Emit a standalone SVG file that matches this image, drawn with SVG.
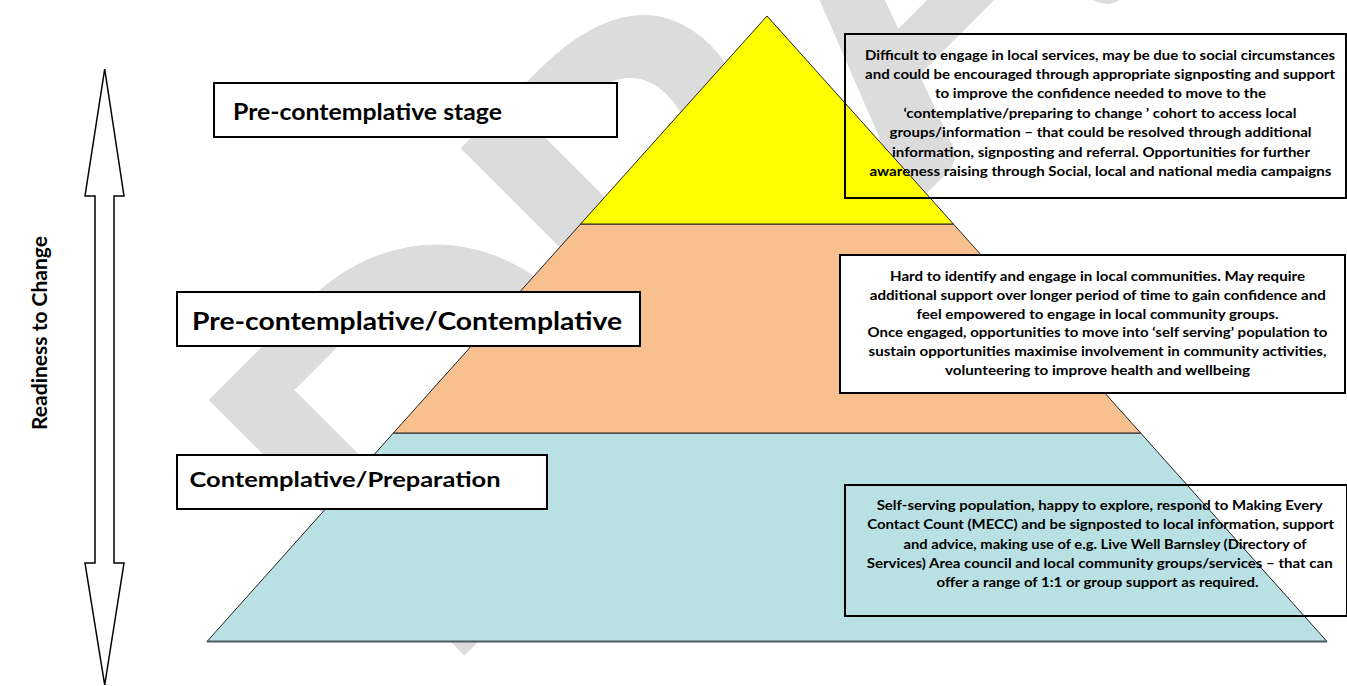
<svg xmlns="http://www.w3.org/2000/svg" width="1347" height="686" viewBox="0 0 1347 686">
<style>
.wm{font-family:Lato,"Liberation Sans",sans-serif;font-weight:700;fill:#dcdcdc}
.lbl{font-family:Lato,"Open Sans",sans-serif;font-weight:700;fill:#000}
.body{font-family:Lato,"Open Sans",sans-serif;font-weight:700;font-size:13.8px;fill:#000;text-anchor:middle}
.box{fill:#fff;stroke:#000;stroke-width:2}
.obox{fill:none;stroke:#000;stroke-width:2}
.tier{stroke:#222;stroke-width:1}
</style>
<rect width="1347" height="686" fill="#fff"/>
<g id="watermark">
<text class="wm" x="0" y="0" font-size="500" transform="translate(436,684) rotate(-45)"><tspan x="0">D</tspan><tspan x="356">R</tspan><tspan x="674">A</tspan><tspan x="1016">F</tspan><tspan x="1275">T</tspan></text>
</g>
<g id="pyramid">
<polygon id="tier-bottom" class="tier" fill="#b9e0e2" points="393.4,433 1140.6,433 1327,641.5 207,641.5"/>
<line x1="207" y1="641.5" x2="1327" y2="641.5" stroke="#4d5b5e" stroke-width="2"/>
<polygon id="tier-middle" class="tier" fill="#f8bf8f" points="580.6,224 953.4,224 1140.6,433 393.4,433"/>
<polygon id="tier-top" class="tier" fill="#ffff00" points="767,16 953.4,224 580.6,224"/>
</g>
<g id="label-pre">
<rect class="box" x="214" y="83" width="403" height="54"/>
<text class="lbl" x="233" y="119.5" font-size="22" textLength="269" lengthAdjust="spacingAndGlyphs">Pre-contemplative stage</text>
</g>
<g id="label-precon">
<rect class="box" x="177" y="292" width="463" height="54"/>
<text class="lbl" x="192" y="330" font-size="25" textLength="430" lengthAdjust="spacingAndGlyphs">Pre-contemplative/Contemplative</text>
</g>
<g id="label-con">
<rect class="box" x="177" y="455" width="370" height="54"/>
<text class="lbl" x="189.5" y="487" font-size="21" textLength="311" lengthAdjust="spacingAndGlyphs">Contemplative/Preparation</text>
</g>
<g id="desc-top">
<rect class="obox" x="845" y="34" width="501" height="164"/>
<text class="body" x="1100" y="59.5" textLength="470" lengthAdjust="spacingAndGlyphs">Difficult to engage in local services, may be due to social circumstances</text>
<text class="body" x="1100" y="78.9" textLength="470" lengthAdjust="spacingAndGlyphs">and could be encouraged through appropriate signposting and support</text>
<text class="body" x="1100.5" y="98.3" textLength="331" lengthAdjust="spacingAndGlyphs">to improve the confidence needed to move to the</text>
<text class="body" x="1100" y="117.7" textLength="393" lengthAdjust="spacingAndGlyphs">‘contemplative/preparing to change ’ cohort to access local</text>
<text class="body" x="1100.5" y="137.1" textLength="422" lengthAdjust="spacingAndGlyphs">groups/information – that could be resolved through additional</text>
<text class="body" x="1101" y="156.5" textLength="418" lengthAdjust="spacingAndGlyphs">information, signposting and referral. Opportunities for further</text>
<text class="body" x="1100.5" y="175.9" textLength="462" lengthAdjust="spacingAndGlyphs">awareness raising through Social, local and national media campaigns</text>
</g>
<g id="desc-middle">
<rect class="box" x="840" y="255" width="505" height="138"/>
<text class="body" x="1097.5" y="280.7" textLength="415" lengthAdjust="spacingAndGlyphs">Hard to identify and engage in local communities. May require</text>
<text class="body" x="1097.8" y="299.6" textLength="456" lengthAdjust="spacingAndGlyphs">additional support over longer period of time to gain confidence and</text>
<text class="body" x="1097.5" y="318.5" textLength="362" lengthAdjust="spacingAndGlyphs">feel empowered to engage in local community groups.</text>
<text class="body" x="1097.5" y="337.4" textLength="460" lengthAdjust="spacingAndGlyphs">Once engaged, opportunities to move into ‘self serving’ population to</text>
<text class="body" x="1097.5" y="356.3" textLength="458" lengthAdjust="spacingAndGlyphs">sustain opportunities maximise involvement in community activities,</text>
<text class="body" x="1097.5" y="375.2" textLength="305" lengthAdjust="spacingAndGlyphs">volunteering to improve health and wellbeing</text>
</g>
<g id="desc-bottom">
<rect class="obox" x="845" y="485" width="502" height="131"/>
<text class="body" x="1099.7" y="509.7" textLength="446" lengthAdjust="spacingAndGlyphs">Self-serving population, happy to explore, respond to Making Every</text>
<text class="body" x="1100.7" y="529.1" textLength="467" lengthAdjust="spacingAndGlyphs">Contact Count (MECC) and be signposted to local information, support</text>
<text class="body" x="1105" y="548.5" textLength="403" lengthAdjust="spacingAndGlyphs">and advice, making use of e.g. Live Well Barnsley (Directory of</text>
<text class="body" x="1099.7" y="567.9" textLength="466" lengthAdjust="spacingAndGlyphs">Services) Area council and local community groups/services – that can</text>
<text class="body" x="1097.5" y="587.3" textLength="322" lengthAdjust="spacingAndGlyphs">offer a range of 1:1 or group support as required.</text>
</g>
<g id="connectors">
<polygon points="104.7,69 124,196 114,196 114,563 124,563 104.7,685 85,563 95,563 95,196 85,196" fill="#fff" stroke="#000" stroke-width="1.5"/>
</g>
<g id="axis-label">
<text class="lbl" x="0" y="0" font-size="20" text-anchor="middle" textLength="194" lengthAdjust="spacingAndGlyphs" transform="translate(47,333) rotate(-90)">Readiness to Change</text>
</g>
</svg>
